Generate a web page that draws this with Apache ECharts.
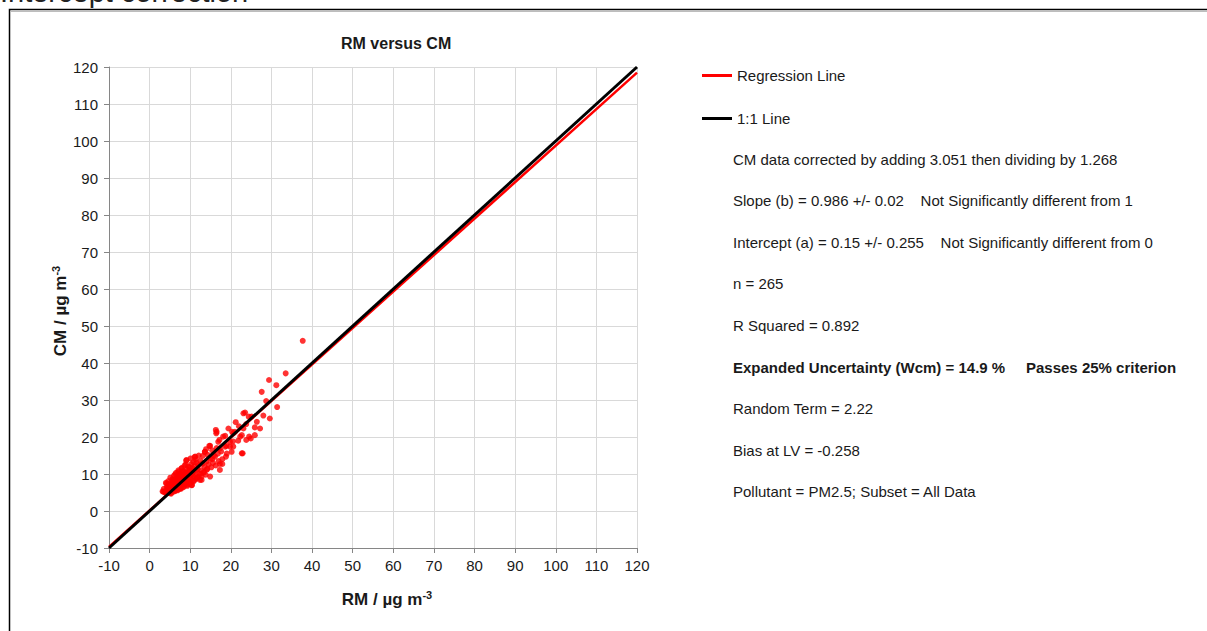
<!DOCTYPE html>
<html>
<head>
<meta charset="utf-8">
<script src="https://cdn.jsdelivr.net/npm/echarts@6/dist/echarts.min.js"></script>
<style>
html,body{margin:0;padding:0;background:#fff;}
#chart{width:1207px;height:631px;}
</style>
</head>
<body>
<div id="chart"></div>
<script>
// ---- data ----
const chartTitle = 'RM versus CM';
const xTicks = [-10, 0, 10, 20, 30, 40, 50, 60, 70, 80, 90, 100, 110, 120];
const yTicks = [-10, 0, 10, 20, 30, 40, 50, 60, 70, 80, 90, 100, 110, 120];

// RM (x) and CM (y) values of the measured points
const rmValues = [
  3.2,3.5,3.8,4.0,4.2,4.3,4.5,4.6,4.8,4.9,5.0,5.1,5.2,5.3,5.4,5.5,5.6,5.7,5.8,5.9,
  6.0,6.1,6.2,6.3,6.4,6.5,6.6,6.7,6.8,6.9,7.0,7.1,7.2,7.3,7.4,7.5,7.6,7.7,7.8,7.9,
  8.0,8.1,8.2,8.3,8.4,8.5,8.6,8.7,8.8,8.9,9.0,9.1,9.2,9.3,9.4,9.5,9.6,9.7,9.8,9.9,
  10.0,10.1,10.2,10.3,10.4,10.5,10.6,10.7,10.8,10.9,11.0,11.1,11.2,11.4,11.5,11.6,11.8,11.9,12.0,12.1,
  12.3,12.4,12.5,12.7,12.8,13.0,13.1,13.3,13.5,13.6,13.8,14.0,14.1,14.3,14.5,14.7,14.9,15.0,15.2,15.4,
  15.6,15.8,16.1,16.3,16.5,16.8,17.0,17.3,17.3,17.6,17.9,
  5.2,5.6,6.0,6.4,6.8,7.2,7.6,8.0,8.4,8.8,9.2,9.6,10.0,10.4,10.8,6.2,6.6,7.0,7.4,7.8,
  8.2,8.6,9.0,9.4,9.8,5.0,5.4,5.8,4.4,4.7,3.4,4.2,5.8,7.1,7.9,9.1,10.4,7.5,5.0,12.8,
  16.3,16.4,18.6,19.4,17.2,14.9,17.3,19.8,20.2,22.9,18.8,17.9,21.0,21.2,23.1,22.3,24.5,25.9,24.9,25.9,
  26.4,27.2,23.5,24.4,28.0,29.6,28.7,31.4,27.6,31.2,29.4,33.5,37.7,
  20.3,18.9,15.4,20.5,21.8,19.0,23.8,22.0,23.8,23.1,25.1,16.5,18.1,20.6,22.7,19.8,16.9,18.6,20.6,22.7,
  11.2,13.6,
  3.9,4.6,5.3,6.1,6.9,7.7,8.5,9.3,10.1,10.9,11.7,12.6,13.4,14.2,6.3,8.9,11.3,13.9
];
const cmValues = [
  5.3,6.0,5.1,7.6,5.8,6.7,5.2,8.1,6.2,5.5,7.0,9.0,5.9,6.6,7.8,5.0,8.6,6.3,7.3,5.6,
  9.6,6.9,8.0,5.4,7.5,10.3,6.1,8.8,7.0,5.8,9.4,11.0,6.5,8.2,7.4,6.1,10.1,8.9,6.9,11.6,
  7.9,9.5,6.4,10.8,8.5,7.2,12.3,9.1,7.7,10.4,13.6,8.3,11.3,6.8,9.9,12.0,8.0,10.9,7.3,11.8,
  9.2,14.2,8.6,12.7,7.0,10.3,11.5,9.5,13.2,8.1,12.0,14.6,9.8,10.9,8.7,13.0,11.3,9.2,12.4,15.0,
  10.1,8.4,13.6,11.0,9.3,12.8,14.9,10.4,12.0,16.0,9.8,13.4,11.2,15.2,12.6,17.6,9.3,14.1,11.8,16.4,
  13.0,15.0,14.7,12.3,17.0,15.5,13.5,12.7,11.1,16.1,14.0,
  6.4,7.0,6.2,8.4,9.2,7.8,8.6,10.6,9.8,8.9,9.6,10.5,11.0,9.9,10.7,7.1,7.7,8.1,9.9,9.6,
  8.1,10.0,9.0,8.5,9.8,6.0,6.9,8.2,6.4,7.2,5.2,7.5,8.4,10.6,11.5,13.8,7.0,6.1,4.8,8.4,
  21.9,21.0,20.3,22.3,19.2,17.6,16.9,17.4,16.0,15.6,14.7,12.7,21.4,24.0,22.3,20.1,20.1,20.5,19.6,22.6,
  24.1,22.3,26.6,25.5,25.8,25.0,29.7,28.1,32.2,34.0,35.4,37.2,46.0,
  21.4,17.6,14.0,18.8,19.0,15.5,23.5,22.9,19.2,26.4,25.5,21.4,20.1,21.0,20.5,18.7,18.7,17.4,17.4,15.6,
  14.7,16.0,
  4.9,5.0,4.7,5.3,5.6,6.0,6.6,7.1,7.6,8.3,9.0,10.0,10.6,11.4,9.9,12.6,13.9,16.7
];

// line end points: regression (slope 0.986, intercept 0.15) and 1:1
const regressionLine = [[-10, -9.71], [120, 118.47]];
const oneToOneLine = [[-10, -10], [120, 120]];

const legendNames = ['Regression Line', '1:1 Line'];
const statLines = [
  'CM data corrected by adding 3.051 then dividing by 1.268',
  'Slope (b) = 0.986 +/- 0.02    Not Significantly different from 1',
  'Intercept (a) = 0.15 +/- 0.255    Not Significantly different from 0',
  'n = 265',
  'R Squared = 0.892',
  'Expanded Uncertainty (Wcm) = 14.9 %     Passes 25% criterion',
  'Random Term = 2.22',
  'Bias at LV = -0.258',
  'Pollutant = PM2.5; Subset = All Data'
];
const boldStat = 5;

// ---- build ----
const FONT = '"Liberation Sans", Arial, sans-serif';
const TXT = '#1a1a1a';
const points = rmValues.map((x, i) => [x, cmValues[i]]);

const statGraphics = statLines.map((t, i) => ({
  type: 'text',
  x: 733,
  y: 159 + i * 41.6,
  style: {
    text: t,
    fill: TXT,
    font: (i === boldStat ? 'bold ' : '') + '15px ' + FONT,
    verticalAlign: 'middle',
    align: 'left'
  }
}));

function axisBase(namePad) {
  return {
    type: 'value',
    min: -10,
    max: 120,
    interval: 10,
    axisLine: { show: true, onZero: false, lineStyle: { color: '#868686', width: 1 } },
    axisTick: { show: true, inside: false, length: 5, lineStyle: { color: '#868686' } },
    splitLine: { show: true, lineStyle: { color: '#d9d9d9', width: 1 } },
    nameLocation: 'middle',
    nameTextStyle: {
      padding: namePad,
      rich: {
        b: { fontSize: 17, fontWeight: 'bold', fontFamily: FONT, color: TXT, lineHeight: 20 },
        s: { fontSize: 11, fontWeight: 'bold', fontFamily: FONT, color: TXT, verticalAlign: 'top', lineHeight: 12 }
      }
    }
  };
}

const chart = echarts.init(document.getElementById('chart'), null, { renderer: 'svg' });
chart.setOption({
  animation: false,
  backgroundColor: '#fff',
  title: {
    text: chartTitle,
    left: 336,
    top: 30,
    textStyle: { fontSize: 16, fontWeight: 'bold', fontFamily: FONT, color: TXT }
  },
  grid: { left: 109, top: 67, width: 528, height: 481, containLabel: false },
  xAxis: Object.assign(axisBase([0, 0, 0, 28]), {
    name: '{b|RM / µg m}{s|-3}',
    nameGap: 41,
    axisLabel: {
      margin: 10, color: TXT, fontSize: 15, fontFamily: FONT,
      formatter: v => (xTicks.indexOf(v) >= 0 ? String(v) : '')
    }
  }),
  yAxis: Object.assign(axisBase([0, 7, 0, 0]), {
    name: '{b|CM / µg m}{s|-3}',
    nameGap: 38,
    axisLabel: {
      margin: 11, color: TXT, fontSize: 15, fontFamily: FONT,
      formatter: v => (yTicks.indexOf(v) >= 0 ? String(v) : '')
    }
  }),
  legend: {
    data: legendNames.map(n => ({ name: n, icon: 'rect' })),
    orient: 'vertical',
    left: 697,
    top: 63,
    itemWidth: 30,
    itemHeight: 3,
    itemGap: 28,
    textStyle: { fontSize: 15, fontFamily: FONT, color: TXT },
    selectedMode: false
  },
  graphic: [
    {
      type: 'rect',
      shape: { x: 9.5, y: 9.5, width: 1300, height: 700 },
      style: { fill: 'none', stroke: '#000', lineWidth: 1.5 },
      silent: true
    },
    {
      type: 'line',
      shape: { x1: 10, y1: 11.5, x2: 1207, y2: 11.5 },
      style: { stroke: '#bdbdbd', lineWidth: 1 },
      silent: true
    },
    {
      type: 'text',
      x: 0,
      y: 6,
      style: { text: 'Intercept correction', fill: '#222', font: '29px ' + FONT, verticalAlign: 'bottom' },
      silent: true
    }
  ].concat(statGraphics),
  series: [
    {
      name: 'Data',
      type: 'scatter',
      data: points,
      symbol: 'circle',
      symbolSize: 6,
      itemStyle: { color: '#ff0000' },
      z: 2
    },
    {
      name: legendNames[0],
      type: 'line',
      data: regressionLine,
      showSymbol: false,
      lineStyle: { color: '#ff0000', width: 2.5 },
      itemStyle: { color: '#ff0000' },
      z: 3
    },
    {
      name: legendNames[1],
      type: 'line',
      data: oneToOneLine,
      showSymbol: false,
      lineStyle: { color: '#000000', width: 3 },
      itemStyle: { color: '#000000' },
      z: 4
    }
  ]
});
</script>
</body>
</html>
